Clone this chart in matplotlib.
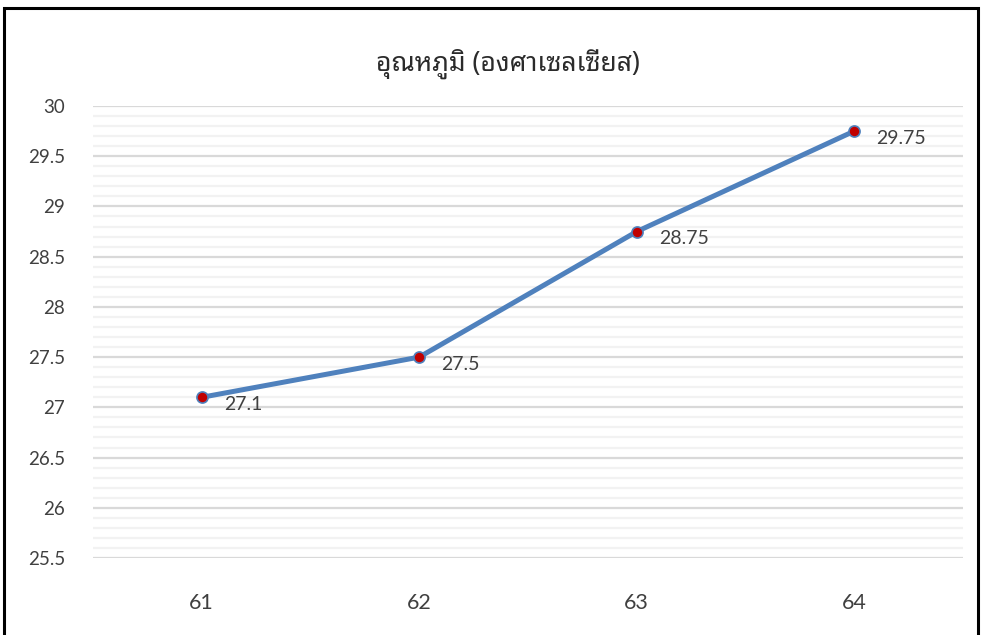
import matplotlib
matplotlib.use("Agg")
import matplotlib.pyplot as plt
from matplotlib.ticker import MultipleLocator, FormatStrFormatter
from matplotlib.patches import Rectangle

years = ["61", "62", "63", "64"]
temps = [27.1, 27.5, 28.75, 29.75]
title_text = "อุณหภูมิ (องศาเซลเซียส)"

plt.rcParams["font.family"] = ["Lato", "DejaVu Sans"]

fig = plt.figure(figsize=(9.82, 6.35), dpi=100)
ax = fig.add_axes([93 / 982, 1 - 558 / 635, 870 / 982, 452 / 635])

x = range(len(years))
ax.plot(x, temps, color="#4F81BD", lw=3.6, marker="o", ms=8,
        mfc="#C00000", mec="#4F81BD", mew=1.2, solid_capstyle="round", zorder=3)
# value labels to the right of each point
for i, v in zip(x, temps):
    ax.annotate(f"{v:g}", (i, v), xytext=(16, -5), textcoords="offset points",
                va="center", ha="left", fontsize=14, color="#404040")

ax.set_xlim(-0.5, 3.5)
ax.set_ylim(25.5, 30)
ax.set_xticks(list(x))
ax.set_xticklabels(years)
ax.yaxis.set_major_locator(MultipleLocator(0.5))
ax.yaxis.set_major_formatter(FormatStrFormatter("%g"))
ax.yaxis.set_minor_locator(MultipleLocator(0.1))
ax.grid(which="major", axis="y", color="#D9D9D9", lw=1.6)
ax.grid(which="minor", axis="y", color="#F2F2F2", lw=1.6)
ax.set_axisbelow(True)
ax.tick_params(which="both", length=0, labelcolor="#404040")
ax.tick_params(axis="x", pad=25, labelsize=15.5)
ax.tick_params(axis="y", pad=20, labelsize=13.5)
for s in ax.spines.values():
    s.set_visible(False)

fig.text(508 / 982, 1 - 64 / 635, title_text, ha="center", va="center",
         fontsize=19, fontweight="semibold", color="#2b2b2b",
         family=["Noto Sans Thai Looped", "DejaVu Sans"])

# outer frame (bottom edge runs off the canvas)
fig.patches.append(Rectangle((4 / 982, -0.05), 974 / 982, 1.05 - 8 / 635,
                             transform=fig.transFigure, fill=False,
                             edgecolor="black", lw=2.2))

fig.savefig("out.png", dpi=100)
